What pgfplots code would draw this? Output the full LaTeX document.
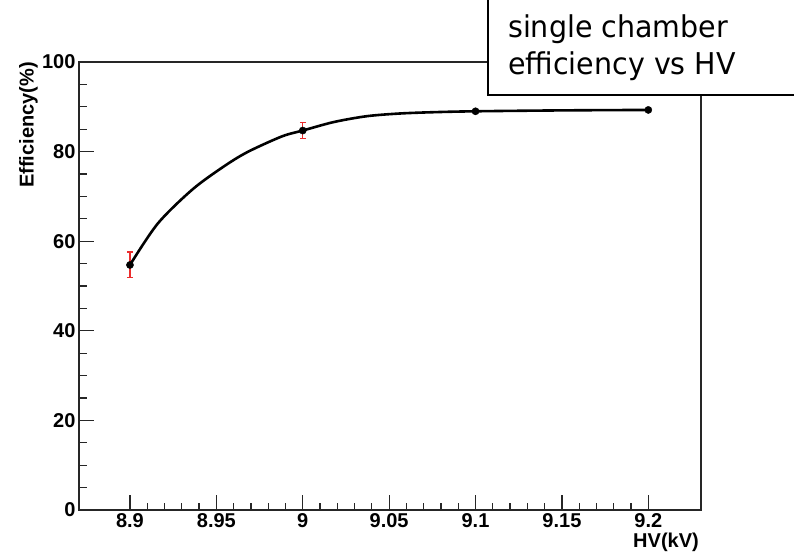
\documentclass[border=0pt]{standalone}
\usepackage{fontspec}
\setmainfont{Liberation Sans}
\newfontfamily\boxfont[FakeStretch=0.95]{DejaVu Sans}
\usepackage{pgfplots}
\pgfplotsset{compat=1.18}
\definecolor{errred}{RGB}{235,45,45}

\begin{document}
\begin{tikzpicture}
	\begin{axis}[
	scale only axis,
	width=622pt,
	height=448pt,
	xmin=8.8705, xmax=9.2305,
	ymin=0, ymax=100,
	xtick={8.9,8.95,9,9.05,9.1,9.15,9.2},
	ytick={0,20,40,60,80,100},
	minor x tick num=4,
	minor y tick num=3,
	scaled x ticks=false,
	tick align=inside,
	tick pos=left,
	major tick length=15pt,
	minor tick length=7.5pt,
	axis line style={line width=1.2pt, black!85},
	every tick/.style={line width=1.2pt, black!85},
	/pgf/number format/assume math mode=true,
	tick label style={font=\fontsize{20}{20}\selectfont\bfseries},
	xlabel={HV(kV)},
	ylabel={Efficiency(\%)},
	label style={font=\fontsize{20}{20}\selectfont\bfseries},
	xlabel style={at={(rel axis cs:1,0)}, anchor=north east, inner sep=2pt, yshift=-21pt},
	ylabel style={at={(rel axis cs:-0.066,1)}, anchor=south east, inner sep=0pt},
	]
	% fit curve
	\addplot[black, line width=2.6pt, smooth, no marks] coordinates {
		(8.900,54.7) (8.916,63.9) (8.936,71.5) (8.954,76.6) (8.968,79.9)
		(8.988,83.4) (9.000,84.7) (9.018,86.6) (9.037,87.9) (9.056,88.5)
		(9.076,88.8) (9.100,89.0) (9.150,89.2) (9.200,89.3)};
	% measured points
	\addplot[only marks, mark=*, mark size=3.6pt, black,
		error bars/.cd, y dir=both, y explicit,
		error bar style={errred, line width=1.1pt},
		error mark options={errred, rotate=90, mark size=2.8pt, line width=1.1pt}]
	coordinates {
		(8.9,54.7) +- (0,2.9)
		(9.0,84.7) +- (0,1.8)
		(9.1,89.0) +- (0,0.3)
		(9.2,89.3) +- (0,0.3)};
	\end{axis}
	\draw[line width=1.8pt, fill=white] ([xshift=409pt,yshift=-33pt]current axis.north west) rectangle ([xshift=800pt,yshift=120pt]current axis.north west);
	\node[anchor=base west, inner sep=0pt, font=\boxfont\fontsize{30}{30}\selectfont] at ([xshift=429pt,yshift=24.3pt]current axis.north west) {single chamber};
	\node[anchor=base west, inner sep=0pt, font=\boxfont\fontsize{30}{30}\selectfont] at ([xshift=429pt,yshift=-13pt]current axis.north west) {efficiency vs HV};
	\pgfresetboundingbox
	\path[use as bounding box] ([xshift=-79pt,yshift=-45pt]current axis.south west) rectangle ([xshift=93pt,yshift=62pt]current axis.north east);
\end{tikzpicture}
\end{document}
